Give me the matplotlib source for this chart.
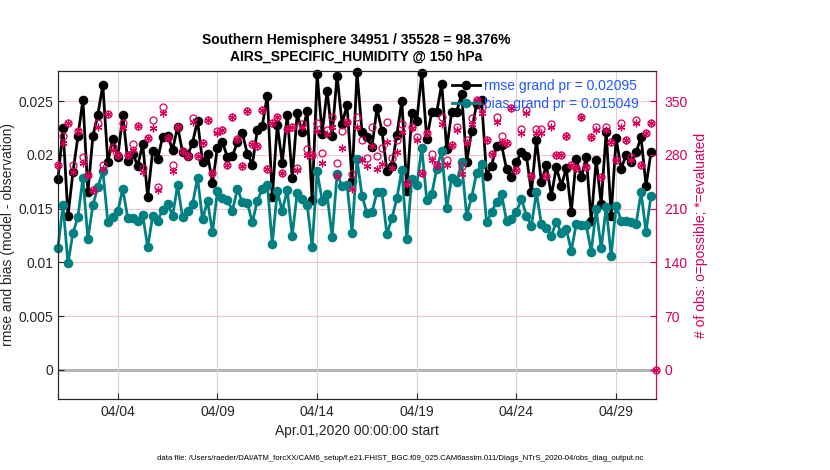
import matplotlib
matplotlib.use("Agg")
import matplotlib.pyplot as plt
import matplotlib.dates as mdates
from matplotlib.ticker import FormatStrFormatter
import numpy as np
import pandas as pd

plt.rcParams['font.family'] = ['Liberation Sans', 'DejaVu Sans']

# 6-hourly bins, Apr 1 00Z .. May 1 00Z
times = pd.date_range('2020-04-01 00:00', periods=121, freq='6h')

rmse = [0.01776, 0.02248, 0.01435, 0.01838, 0.02174, 0.02512, 0.01652, 0.02174, 0.02376, 0.02652,
        0.01935, 0.02149, 0.01978, 0.02376, 0.01941, 0.02009, 0.01901, 0.02102, 0.01612, 0.0204,
        0.01963, 0.02171, 0.0218, 0.02047, 0.02264, 0.02025, 0.01991, 0.02115, 0.0232, 0.01938,
        0.02006, 0.01742, 0.02068, 0.02121, 0.01978, 0.01991, 0.02118, 0.02202, 0.02009, 0.0191,
        0.02233, 0.02273, 0.02553, 0.01605, 0.02283, 0.01928, 0.02376, 0.01789, 0.02388, 0.02211,
        0.02407, 0.01578, 0.02755, 0.02196, 0.02599, 0.0218, 0.02739, 0.02289, 0.02466, 0.01761,
        0.0277, 0.02217, 0.02165, 0.02071, 0.02435, 0.02227, 0.01854, 0.01901, 0.02186, 0.02506,
        0.01668, 0.02391, 0.0232, 0.0276, 0.02149, 0.02398, 0.02398, 0.02662, 0.02056, 0.02398,
        0.02404, 0.02568, 0.01932, 0.02227, 0.02475, 0.02512, 0.01807, 0.01901, 0.02081, 0.02093,
        0.0187, 0.01792, 0.01932, 0.02031, 0.01988, 0.01652, 0.02143, 0.01745, 0.01907, 0.01621,
        0.01885, 0.01714, 0.01876, 0.01472, 0.01963, 0.01792, 0.01978, 0.01388, 0.01956, 0.01543,
        0.02217, 0.01435, 0.02155, 0.0187, 0.020, 0.01932, 0.02025, 0.02165, 0.01714, 0.02025,
        np.nan]

bias = [0.01133, 0.01537, 0.00991, 0.01273, 0.01425, 0.01786, 0.01217, 0.01534, 0.01702, 0.01854,
        0.01376, 0.01422, 0.01475, 0.01683, 0.01413, 0.01413, 0.01388, 0.01444, 0.0114, 0.01435,
        0.01388, 0.01487, 0.01543, 0.01435, 0.01717, 0.01419, 0.01478, 0.0154, 0.01789, 0.014,
        0.01571, 0.01279, 0.01668, 0.01602, 0.01578, 0.01481, 0.01683, 0.01559, 0.01553, 0.01373,
        0.01574, 0.01683, 0.01724, 0.01171, 0.01661, 0.01481, 0.01674, 0.01248, 0.01649, 0.0159,
        0.01537, 0.01146, 0.01848, 0.01574, 0.01633, 0.01233, 0.01823, 0.01708, 0.0172, 0.01276,
        0.01963, 0.01621, 0.01459, 0.01466, 0.01652, 0.01652, 0.01264, 0.0141, 0.01596, 0.01863,
        0.01217, 0.01776, 0.0172, 0.02065, 0.01581, 0.01637, 0.0187, 0.0204, 0.01503, 0.0179,
        0.01745, 0.01932, 0.01435, 0.01605, 0.01832, 0.01916, 0.01373, 0.01466, 0.01565, 0.01637,
        0.01388, 0.01404, 0.01472, 0.0159, 0.01435, 0.01341, 0.01652, 0.01357, 0.01317, 0.01248,
        0.01379, 0.01273, 0.0131, 0.01109, 0.01357, 0.01348, 0.01348, 0.01099, 0.01497, 0.0113,
        0.01512, 0.01062, 0.01528, 0.01388, 0.01388, 0.01373, 0.01357, 0.01652, 0.01286, 0.01621,
        np.nan]

n_possible = [267, 305, 321, 267, 311, 277, 254, 234, 321, 267,
              333, 290, 280, 321, 280, 294, 318, 263, 302, 325,
              238, 342, 302, 267, 317, 285, 279, 328, 279, 295,
              325, 256, 311, 312, 267, 329, 301, 265, 337, 294,
              292, 338, 262, 321, 330, 256, 314, 317, 263, 320,
              288, 280, 321, 282, 312, 329, 270, 311, 323, 255,
              329, 300, 276, 316, 278, 289, 323, 276, 299, 320,
              244, 317, 303, 257, 309, 281, 267, 329, 274, 293,
              316, 265, 299, 328, 351, 342, 300, 281, 329, 304,
              296, 341, 260, 314, 339, 252, 314, 314, 252, 320,
              280, 280, 305, 267, 263, 330, 264, 303, 317, 251,
              317, 297, 274, 322, 300, 277, 325, 267, 309, 322,
              0]

n_used = [267, 296, 321, 258, 311, 270, 254, 234, 316, 261,
          333, 286, 280, 315, 280, 286, 318, 258, 302, 315,
          234, 334, 302, 259, 317, 285, 279, 323, 279, 295,
          325, 256, 308, 312, 267, 329, 301, 265, 337, 294,
          292, 338, 262, 321, 330, 256, 314, 317, 260, 316,
          280, 280, 311, 269, 307, 316, 253, 289, 323, 236,
          317, 274, 266, 291, 262, 268, 297, 263, 284, 310,
          242, 315, 299, 257, 309, 274, 267, 320, 267, 293,
          312, 255, 296, 320, 351, 335, 300, 281, 323, 297,
          296, 341, 260, 308, 334, 252, 309, 309, 252, 317,
          280, 280, 305, 267, 263, 330, 264, 303, 312, 251,
          312, 297, 274, 317, 300, 273, 322, 267, 309, 322,
          0]

tick_dates = pd.to_datetime(['2020-04-04', '2020-04-09', '2020-04-14',
                             '2020-04-19', '2020-04-24', '2020-04-29'])

red = '#d8005a'
teal = '#008080'
blue = '#1e5aff'

W, H = 830, 470
fig = plt.figure(figsize=(W / 100, H / 100), dpi=100)
x0, x1, y0, y1 = 58, 656, 71, 398.5
ax = fig.add_axes([x0 / W, 1 - y1 / H, (x1 - x0) / W, (y1 - y0) / H])
ax2 = ax.twinx()

# left axis: rmse and bias
ax.axhline(0, color='#b5b5b5', lw=2.2, zorder=1)
l1, = ax.plot(times, rmse, '-o', color='k', lw=2, ms=5.5, mew=1.4, zorder=3,
              clip_on=False, label='rmse grand pr = 0.02095')
l2, = ax.plot(times, bias, '-o', color=teal, lw=2, ms=5.5, mew=1.4, zorder=3,
              clip_on=False, label='bias grand pr = 0.015049')

ax.set_ylim(-0.00266, 0.02781)
ax.set_yticks([0, 0.005, 0.01, 0.015, 0.02, 0.025])
ax.yaxis.set_major_formatter(FormatStrFormatter('%g'))
ax.set_xlim(times[0], times[-1])
ax.set_xticks(tick_dates)
ax.xaxis.set_major_formatter(mdates.DateFormatter('%m/%d'))
ax.tick_params(axis='both', direction='in', labelsize=10, colors='#262626', length=4)
ax.tick_params(axis='x', pad=5)
ax.grid(axis='x', color='#d4d4d4', lw=0.8)
for v in [0.005, 0.01, 0.015, 0.02, 0.025]:
    ax.axhline(v, color='#f5c6d6', lw=0.8, zorder=0)

# right axis: observation counts
ax2.plot(times, n_possible, 'o', color=red, mfc='none', ms=5, mew=0.9, zorder=4, clip_on=False)
ax2.plot(times, n_used, marker=(6, 2, 0), ls='none', color=red, ms=5.5, mew=0.9, zorder=4,
         clip_on=False)
ax2.set_ylim(-37.3, 389.3)
ax2.set_yticks([0, 70, 140, 210, 280, 350])
ax2.tick_params(axis='y', direction='in', labelsize=10, colors=red, length=4, pad=6)
ax2.spines['right'].set_color(red)
for s in ['left', 'top', 'bottom']:
    ax2.spines[s].set_color('#262626')
    ax.spines[s].set_color('#262626')

leg = fig.legend(handles=[l1, l2], loc='upper left', bbox_to_anchor=(452 / W, 1 - 79 / H),
                 frameon=False, fontsize=10, labelcolor=blue, handlelength=2.0,
                 handletextpad=0.3, borderpad=0, borderaxespad=0, labelspacing=0.28)

fig.text(356.5 / W, 1 - 40 / H, 'Southern Hemisphere 34951 / 35528 = 98.376%',
         ha='center', va='center', fontsize=10, fontweight='bold')
fig.text(356.5 / W, 1 - 57 / H, 'AIRS_SPECIFIC_HUMIDITY @ 150 hPa',
         ha='center', va='center', fontsize=10, fontweight='bold')
fig.text(356.5 / W, 1 - 431 / H, 'Apr.01,2020 00:00:00 start',
         ha='center', va='center', fontsize=10, color='#262626')
fig.text(8 / W, 1 - 235 / H, 'rmse and bias (model - observation)',
         ha='center', va='center', rotation=90, fontsize=10, color='#262626')
fig.text(701 / W, 1 - 235 / H, '# of obs: o=possible; *=evaluated',
         ha='center', va='center', rotation=90, fontsize=10, color=red)
fig.text(400 / W, 1 - 458 / H,
         'data file: /Users/raeder/DAI/ATM_forcXX/CAM6_setup/f.e21.FHIST_BGC.f09_025.'
         'CAM6assim.011/Diags_NTrS_2020-04/obs_diag_output.nc',
         ha='center', va='center', fontsize=5.6)

fig.savefig('out.png', dpi=100)
